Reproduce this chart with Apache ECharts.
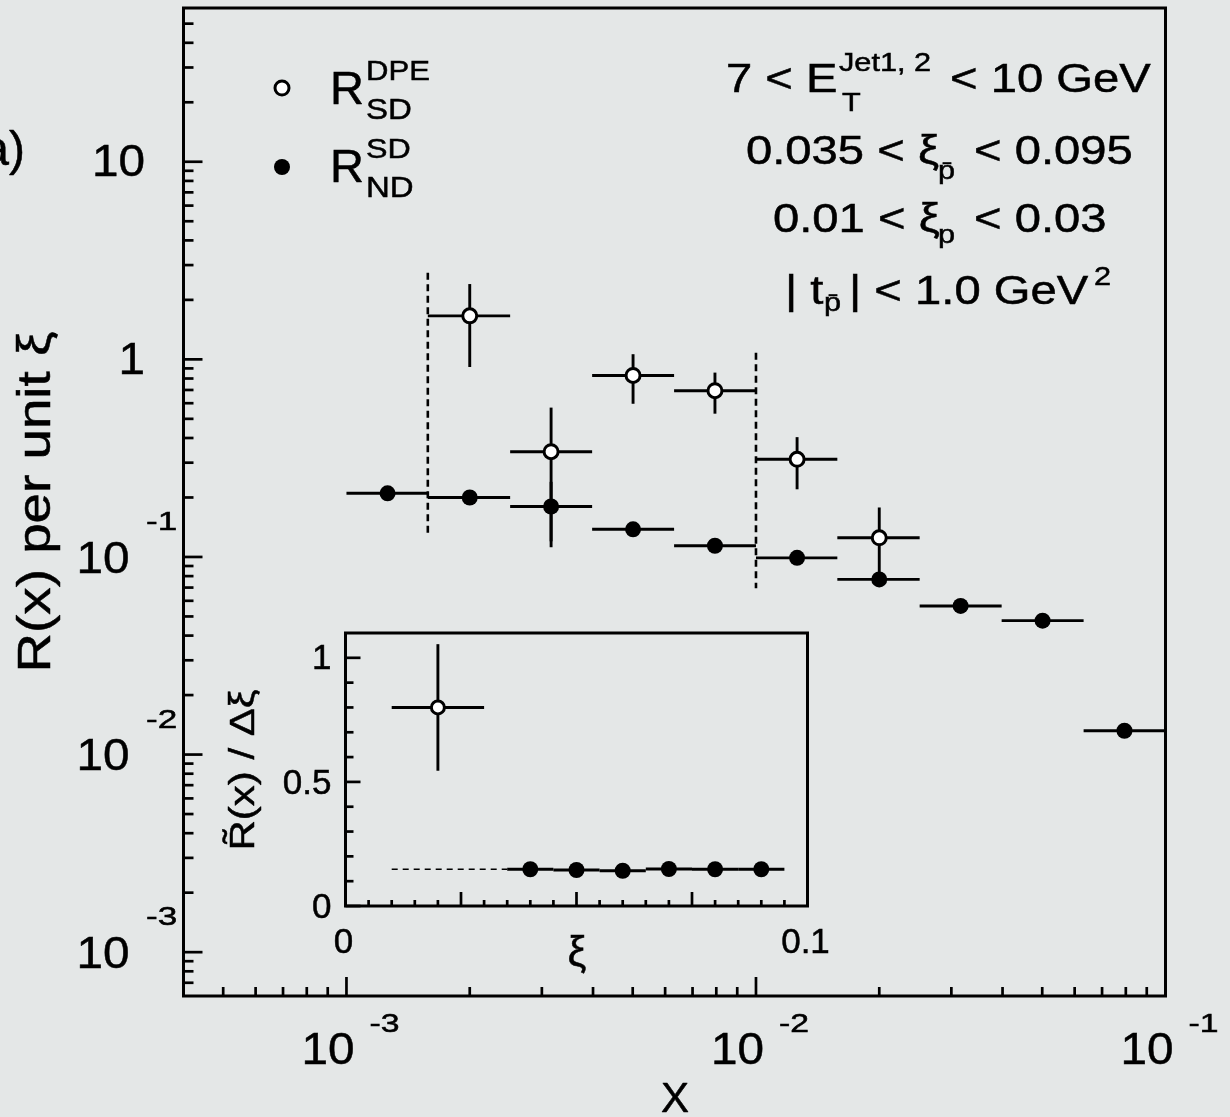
<!DOCTYPE html>
<html>
<head>
<meta charset="utf-8">
<title>R(x) per unit xi</title>
<script src="https://cdn.jsdelivr.net/npm/echarts@6/dist/echarts.min.js"></script>
<style>
  html, body { margin: 0; padding: 0; background: #e4e7e7; }
  #main { width: 1230px; height: 1117px; }
</style>
</head>
<body>
<div id="main"></div>
<script>
// x bins: 0.2 decade wide, from 1e-3 to 1e-1
var binEdges = [0.001, 0.00158, 0.00251, 0.00398, 0.00631, 0.01, 0.0158, 0.0251, 0.0398, 0.0631, 0.1];

// R_ND^SD (filled points)
var ndBin = [0, 1, 2, 3, 4, 5, 6, 7, 8, 9];
var ndX   = [0.00126, 0.002, 0.00316, 0.00501, 0.00794, 0.0126, 0.02, 0.0316, 0.0501, 0.0794];
var ndY   = [0.210, 0.200, 0.180, 0.138, 0.114, 0.099, 0.077, 0.0565, 0.0476, 0.0132];
var ndErr = [0.008, 0.008, 0.06, 0.006, 0.005, 0.004, 0.004, 0.003, 0.003, 0.001];

// R_SD^DPE (open points)
var dpeBin = [1, 2, 3, 4, 5, 6];
var dpeX   = [0.002, 0.00316, 0.00501, 0.00794, 0.0126, 0.02];
var dpeY   = [1.66, 0.341, 0.829, 0.694, 0.312, 0.125];
var dpeErr = [0.745, 0.229, 0.233, 0.163, 0.092, 0.053];

// dashed vertical lines (xi range limits)
var cutX      = [0.00158, 0.01];
var cutTop    = [2.74, 1.08];
var cutBottom = [0.129, 0.0694];

// inset: R~(x)/delta xi vs xi
var insDpeX = [0.02], insDpeY = [0.80], insDpeXErr = [0.01], insDpeYErr = [0.255];
var insNdX    = [0.04, 0.05, 0.06, 0.07, 0.08, 0.09];
var insNdY    = [0.148, 0.145, 0.142, 0.149, 0.148, 0.148];
var insNdXErr = [0.005, 0.005, 0.005, 0.005, 0.005, 0.005];
var insNdYErr = [0.005, 0.005, 0.005, 0.005, 0.005, 0.005];
var insGuideX = [0.01, 0.035];
var insGuideY = [0.148, 0.148];

// axis ranges and ticks
var X_MIN = 4e-4, X_MAX = 0.1, Y_MIN = 6e-4, Y_MAX = 60;
var xMajor = [0.001, 0.01, 0.1];
var xLabelExp = ['-3', '-2', '-1'];
var xMinor = [5e-4, 6e-4, 7e-4, 8e-4, 9e-4,
              0.002, 0.003, 0.004, 0.005, 0.006, 0.007, 0.008, 0.009,
              0.02, 0.03, 0.04, 0.05, 0.06, 0.07, 0.08, 0.09];
var yMajor = [0.001, 0.01, 0.1, 1, 10];
var yLabelBase = ['10', '10', '10', '1', '10'];
var yLabelExp  = ['-3', '-2', '-1', '', ''];
var yMinor = [7e-4, 8e-4, 9e-4,
              0.002, 0.003, 0.004, 0.005, 0.006, 0.007, 0.008, 0.009,
              0.02, 0.03, 0.04, 0.05, 0.06, 0.07, 0.08, 0.09,
              0.2, 0.3, 0.4, 0.5, 0.6, 0.7, 0.8, 0.9,
              2, 3, 4, 5, 6, 7, 8, 9, 20, 30, 40, 50];

var insXMajor = [0.025, 0.05, 0.075];
var insXMinor = [0.005, 0.01, 0.015, 0.02, 0.03, 0.035, 0.04, 0.045,
                 0.055, 0.06, 0.065, 0.07, 0.08, 0.085, 0.09, 0.095];
var insXLabelVal = [0, 0.1];
var insXLabel = ['0', '0.1'];
var insYMajor = [0, 0.5, 1];
var insYMinor = [0.1, 0.2, 0.3, 0.4, 0.6, 0.7, 0.8, 0.9];
var insYLabel = ['0', '0.5', '1'];

var FONT = '"Liberation Sans", Arial, Helvetica, sans-serif';

function textEl(str, x, y, size, align, scaleX, rotation) {
    return {
        type: 'text', x: x, y: y, z: 100,
        scaleX: scaleX || 1,
        rotation: rotation || 0,
        style: {
            text: str, font: size + 'px ' + FONT, fill: '#000',
            stroke: '#000', lineWidth: 0.5,
            textAlign: align, textVerticalAlign: 'middle',
            align: align, verticalAlign: 'middle'
        }
    };
}

function errorBars() {
    return function (params, api) {
        var x = api.value(0), y = api.value(1);
        var pL = api.coord([api.value(2), y]);
        var pR = api.coord([api.value(3), y]);
        var pT = api.coord([x, api.value(5)]);
        var pB = api.coord([x, api.value(4)]);
        var st = { stroke: '#000', lineWidth: 2.9 };
        return {
            type: 'group', children: [
                { type: 'line', shape: { x1: pL[0], y1: pL[1], x2: pR[0], y2: pR[1] }, style: st },
                { type: 'line', shape: { x1: pT[0], y1: pT[1], x2: pB[0], y2: pB[1] }, style: st }
            ]
        };
    };
}

function tickSeries(idx, vals, dir, len, fixed) {
    return {
        type: 'custom', xAxisIndex: idx, yAxisIndex: idx, clip: false, silent: true, z: 5,
        data: vals.map(function (v) { return dir === 'x' ? [v, fixed] : [fixed, v]; }),
        renderItem: function (params, api) {
            var p = api.coord([api.value(0), api.value(1)]);
            var shape = dir === 'x'
                ? { x1: p[0], y1: p[1], x2: p[0], y2: p[1] - len }
                : { x1: p[0], y1: p[1], x2: p[0] + len, y2: p[1] };
            return { type: 'line', shape: shape, style: { stroke: '#000', lineWidth: 2.7 } };
        }
    };
}

// error bar rows: [x, y, xLow, xHigh, yLow, yHigh]
var mainRows = [];
ndX.forEach(function (x, i) {
    mainRows.push([x, ndY[i], binEdges[ndBin[i]], binEdges[ndBin[i] + 1], ndY[i] - ndErr[i], ndY[i] + ndErr[i]]);
});
dpeX.forEach(function (x, i) {
    mainRows.push([x, dpeY[i], binEdges[dpeBin[i]], binEdges[dpeBin[i] + 1], dpeY[i] - dpeErr[i], dpeY[i] + dpeErr[i]]);
});
var insRows = [];
insNdX.forEach(function (x, i) {
    insRows.push([x, insNdY[i], x - insNdXErr[i], x + insNdXErr[i], insNdY[i] - insNdYErr[i], insNdY[i] + insNdYErr[i]]);
});
insDpeX.forEach(function (x, i) {
    insRows.push([x, insDpeY[i], x - insDpeXErr[i], x + insDpeXErr[i], insDpeY[i] - insDpeYErr[i], insDpeY[i] + insDpeYErr[i]]);
});

var hiddenAxis = {
    axisLine: { show: false }, axisTick: { show: false }, axisLabel: { show: false },
    splitLine: { show: false }, minorTick: { show: false }, minorSplitLine: { show: false }
};
function axis(extra) { return Object.assign({}, hiddenAxis, extra); }

var graphics = [
    textEl('a)', 25, 152, 48, 'right'),
    textEl('R(x) per unit \u03BE', 37, 502, 46, 'center', 1.19, Math.PI / 2),
    textEl('R\u0303(x) / \u0394\u03BE', 244.5, 770, 35, 'center', 1.2, Math.PI / 2),
    textEl('X', 675, 1100, 42, 'center'),
    textEl('\u03BE', 577, 954, 42, 'center'),
    // legend
    { type: 'circle', z: 100, shape: { cx: 282, cy: 88, r: 7 }, style: { fill: '#fff', stroke: '#000', lineWidth: 3 } },
    { type: 'circle', z: 100, shape: { cx: 282, cy: 167, r: 8 }, style: { fill: '#000' } },
    textEl('R', 330, 91, 47, 'left'),
    textEl('DPE', 366, 73, 27, 'left', 1.15),
    textEl('SD', 366, 111, 30, 'left', 1.1),
    textEl('R', 330, 169.5, 47, 'left'),
    textEl('SD', 366, 150, 28, 'left', 1.15),
    textEl('ND', 366, 189, 30, 'left', 1.1),
    // cuts
    textEl('7 < E', 726, 81, 40, 'left', 1.18),
    textEl('Jet1, 2', 839, 64, 26, 'left', 1.18),
    textEl('T', 842, 103.5, 26, 'left', 1.18),
    textEl('< 10 GeV', 950, 81, 40, 'left', 1.18),
    textEl('0.035 < \u03BE', 746, 153, 40, 'left', 1.18),
    textEl('p\u0304', 938, 172, 26, 'left', 1.18),
    textEl('< 0.095', 974, 153, 40, 'left', 1.18),
    textEl('0.01 < \u03BE', 773, 221, 40, 'left', 1.18),
    textEl('p', 938, 236, 26, 'left', 1.18),
    textEl('< 0.03', 974, 221, 40, 'left', 1.18),
    textEl('| t', 785, 293, 40, 'left', 1.18),
    textEl('p\u0304', 824, 304, 26, 'left', 1.18),
    textEl('| < 1.0 GeV', 849, 293, 40, 'left', 1.18),
    textEl('2', 1094, 278, 26, 'left', 1.18)
];

var myChart = echarts.init(document.getElementById('main'));
var option = {
    backgroundColor: '#e4e7e7',
    animation: false,
    grid: [
        { left: 183.5, top: 8, width: 982, height: 988, show: true, borderColor: '#000', borderWidth: 3, backgroundColor: 'transparent' },
        { left: 345.5, top: 633, width: 462, height: 273, show: true, borderColor: '#000', borderWidth: 3, backgroundColor: 'transparent' }
    ],
    xAxis: [
        axis({ type: 'log', logBase: 10, gridIndex: 0, min: X_MIN, max: X_MAX }),
        axis({ type: 'value', gridIndex: 1, min: 0, max: 0.1 })
    ],
    yAxis: [
        axis({ type: 'log', logBase: 10, gridIndex: 0, min: Y_MIN, max: Y_MAX }),
        axis({ type: 'value', gridIndex: 1, min: 0, max: 1.1 })
    ],
    graphic: graphics,
    series: [
        {
            name: 'errors', type: 'custom', xAxisIndex: 0, yAxisIndex: 0, clip: false, z: 2,
            data: mainRows, renderItem: errorBars()
        },
        {
            name: 'R_ND^SD', type: 'scatter', xAxisIndex: 0, yAxisIndex: 0, z: 3,
            symbol: 'circle', symbolSize: 16, itemStyle: { color: '#000', opacity: 1 },
            data: ndX.map(function (x, i) { return [x, ndY[i]]; })
        },
        {
            name: 'R_SD^DPE', type: 'scatter', xAxisIndex: 0, yAxisIndex: 0, z: 3,
            symbol: 'circle', symbolSize: 14,
            itemStyle: { color: '#fff', borderColor: '#000', borderWidth: 3, opacity: 1 },
            data: dpeX.map(function (x, i) { return [x, dpeY[i]]; })
        },
        {
            name: 'cuts', type: 'custom', xAxisIndex: 0, yAxisIndex: 0, clip: false, z: 2,
            data: cutX.map(function (x, i) { return [x, cutTop[i], cutBottom[i]]; }),
            renderItem: function (params, api) {
                var a = api.coord([api.value(0), api.value(1)]);
                var b = api.coord([api.value(0), api.value(2)]);
                return {
                    type: 'line', shape: { x1: a[0], y1: a[1], x2: b[0], y2: b[1] },
                    style: { stroke: '#000', lineWidth: 2.6, lineDash: [7, 4.5] }
                };
            }
        },
        tickSeries(0, xMajor, 'x', 19, Y_MIN),
        tickSeries(0, xMinor, 'x', 9, Y_MIN),
        tickSeries(0, yMajor, 'y', 19, X_MIN),
        tickSeries(0, yMinor, 'y', 10, X_MIN),
        {
            name: 'xlabels', type: 'custom', xAxisIndex: 0, yAxisIndex: 0, clip: false, silent: true,
            data: xMajor.map(function (v) { return [v, Y_MIN]; }),
            renderItem: function (params, api) {
                var p = api.coord([api.value(0), api.value(1)]);
                return {
                    type: 'group', children: [
                        textEl('10', p[0] + 8, p[1] + 55.5, 45, 'right', 1.06),
                        textEl(xLabelExp[params.dataIndex], p[0] + 23, p[1] + 29, 25, 'left', 1.35)
                    ]
                };
            }
        },
        {
            name: 'ylabels', type: 'custom', xAxisIndex: 0, yAxisIndex: 0, clip: false, silent: true,
            data: yMajor.map(function (v) { return [X_MIN, v]; }),
            renderItem: function (params, api) {
                var i = params.dataIndex;
                var p = api.coord([api.value(0), api.value(1)]);
                var kids = [];
                if (yLabelExp[i]) {
                    kids.push(textEl(yLabelBase[i], p[0] - 54, p[1] + 3.5, 45, 'right', 1.06));
                    kids.push(textEl(yLabelExp[i], p[0] - 37.5, p[1] - 34, 26, 'left', 1.35));
                } else {
                    kids.push(textEl(yLabelBase[i], p[0] - 38.5, p[1] + 2, 45, 'right', 1.06));
                }
                return { type: 'group', children: kids };
            }
        },
        // inset
        {
            name: 'inset errors', type: 'custom', xAxisIndex: 1, yAxisIndex: 1, clip: false, z: 2,
            data: insRows, renderItem: errorBars()
        },
        {
            name: 'inset guide', type: 'line', xAxisIndex: 1, yAxisIndex: 1, z: 2,
            symbol: 'none', lineStyle: { color: '#000', width: 1.5, type: [6, 5] },
            data: insGuideX.map(function (x, i) { return [x, insGuideY[i]]; })
        },
        {
            name: 'inset ND', type: 'scatter', xAxisIndex: 1, yAxisIndex: 1, z: 3,
            symbol: 'circle', symbolSize: 16, itemStyle: { color: '#000', opacity: 1 },
            data: insNdX.map(function (x, i) { return [x, insNdY[i]]; })
        },
        {
            name: 'inset DPE', type: 'scatter', xAxisIndex: 1, yAxisIndex: 1, z: 3,
            symbol: 'circle', symbolSize: 13,
            itemStyle: { color: '#fff', borderColor: '#000', borderWidth: 3, opacity: 1 },
            data: insDpeX.map(function (x, i) { return [x, insDpeY[i]]; })
        },
        tickSeries(1, insXMajor, 'x', 14, 0),
        tickSeries(1, insXMinor, 'x', 6, 0),
        tickSeries(1, insYMajor, 'y', 15, 0),
        tickSeries(1, insYMinor, 'y', 8, 0),
        {
            name: 'inset xlabels', type: 'custom', xAxisIndex: 1, yAxisIndex: 1, clip: false, silent: true,
            data: insXLabelVal.map(function (v) { return [v, 0]; }),
            renderItem: function (params, api) {
                var p = api.coord([api.value(0), api.value(1)]);
                return textEl(insXLabel[params.dataIndex], p[0] - 2, p[1] + 37, 35, 'center');
            }
        },
        {
            name: 'inset ylabels', type: 'custom', xAxisIndex: 1, yAxisIndex: 1, clip: false, silent: true,
            data: insYMajor.map(function (v) { return [0, v]; }),
            renderItem: function (params, api) {
                var p = api.coord([api.value(0), api.value(1)]);
                return textEl(insYLabel[params.dataIndex], p[0] - 14, p[1] + 2, 35, 'right');
            }
        }
    ]
};
myChart.setOption(option, true);
</script>
</body>
</html>
